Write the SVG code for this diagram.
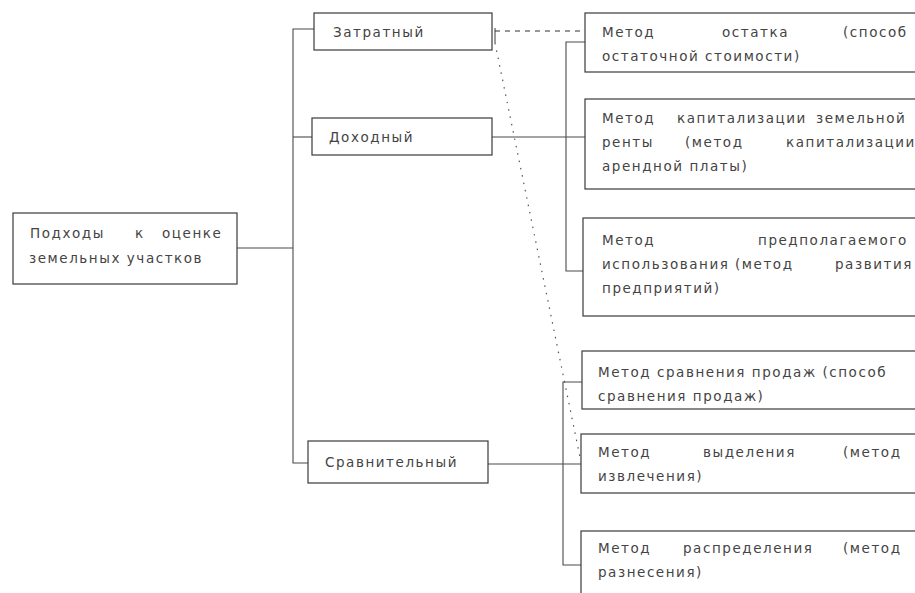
<svg xmlns="http://www.w3.org/2000/svg" width="915" height="593" viewBox="0 0 915 593">
<style>
  .box { fill: #fff; stroke: #3a3a3a; stroke-width: 1.2; }
  .t { font-family: "DejaVu Sans", Verdana, sans-serif; font-size: 13.5px; fill: #444; letter-spacing: 1.55px; }
  .c { fill: none; stroke: #4a4a4a; stroke-width: 1.1; }
  .dash { fill: none; stroke: #333; stroke-width: 1.1; stroke-dasharray: 5 5; }
  .dot { fill: none; stroke: #555; stroke-width: 1.2; stroke-dasharray: 1.5 6; }
</style>
<rect width="915" height="593" fill="#fff"/>

<g id="connectors">
  <path class="c" d="M237 248 H293"/>
  <path class="c" d="M314 29 H293 V463 H308"/>
  <path class="c" d="M293 137 H312"/>
  <path class="c" d="M495 28 V43"/>
  <path class="dash" d="M495 31 H587"/>
  <path class="dot" d="M495 43 L581 462"/>
  <path class="c" d="M492 137 H585"/>
  <path class="c" d="M585 42 H566 V271 H583"/>
  <path class="c" d="M488 464 H581"/>
  <path class="c" d="M582 382 H563 V565 H581"/>
</g>

<g id="root">
  <rect class="box" x="13" y="213" width="224" height="71"/>
  <text class="t" y="238"><tspan x="30">Подходы</tspan><tspan x="135">к</tspan><tspan x="162">оценке</tspan></text>
  <text class="t" x="29" y="263">земельных участков</text>
</g>

<g id="zatratny">
  <rect class="box" x="314" y="13" width="178" height="37"/>
  <text class="t" x="333" y="37">Затратный</text>
</g>

<g id="dokhodny">
  <rect class="box" x="312" y="118" width="180" height="37"/>
  <text class="t" x="329" y="142">Доходный</text>
</g>

<g id="sravnitelny">
  <rect class="box" x="308" y="441" width="180" height="42"/>
  <text class="t" x="325" y="467">Сравнительный</text>
</g>

<g id="m1">
  <rect class="box" x="585" y="13" width="345" height="59"/>
  <text class="t" y="37"><tspan x="602">Метод</tspan><tspan x="722">остатка</tspan><tspan x="843">(способ</tspan></text>
  <text class="t" x="602" y="61">остаточной стоимости)</text>
</g>

<g id="m2">
  <rect class="box" x="585" y="99" width="345" height="90"/>
  <text class="t" y="123"><tspan x="602">Метод</tspan><tspan x="677">капитализации</tspan><tspan x="816">земельной</tspan></text>
  <text class="t" y="147"><tspan x="602">ренты</tspan><tspan x="685">(метод</tspan><tspan x="786">капитализации</tspan></text>
  <text class="t" x="602" y="171">арендной платы)</text>
</g>

<g id="m3">
  <rect class="box" x="583" y="218" width="347" height="98"/>
  <text class="t" y="245"><tspan x="602">Метод</tspan><tspan x="758">предполагаемого</tspan></text>
  <text class="t" y="269"><tspan x="602">использования</tspan><tspan x="735">(метод</tspan><tspan x="835">развития</tspan></text>
  <text class="t" x="602" y="293">предприятий)</text>
</g>

<g id="m4">
  <rect class="box" x="582" y="351" width="348" height="58"/>
  <text class="t" x="598" y="377">Метод сравнения продаж (способ</text>
  <text class="t" x="598" y="401">сравнения продаж)</text>
</g>

<g id="m5">
  <rect class="box" x="581" y="434" width="349" height="59"/>
  <text class="t" y="457"><tspan x="598">Метод</tspan><tspan x="703">выделения</tspan><tspan x="843">(метод</tspan></text>
  <text class="t" x="598" y="481">извлечения)</text>
</g>

<g id="m6">
  <rect class="box" x="581" y="531" width="349" height="90"/>
  <text class="t" y="553"><tspan x="598">Метод</tspan><tspan x="683">распределения</tspan><tspan x="843">(метод</tspan></text>
  <text class="t" x="598" y="577">разнесения)</text>
</g>
</svg>
